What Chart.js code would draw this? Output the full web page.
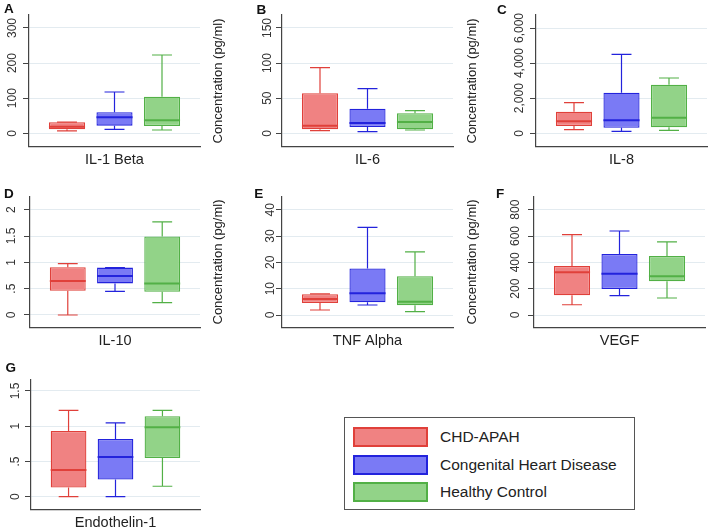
<!DOCTYPE html>
<html><head><meta charset="utf-8">
<script src="https://cdn.jsdelivr.net/npm/chart.js@4.4.1/dist/chart.umd.min.js"></script>
<style>
html,body{margin:0;padding:0;background:#fff;}
#page{position:relative;width:709px;height:532px;overflow:hidden;font-family:"Liberation Sans",Arial,sans-serif;background:#fff;}
#page canvas{position:absolute;}
.letter{position:absolute;font-weight:bold;font-size:13.5px;line-height:1;color:#111;}
.ytitle{position:absolute;font-size:13px;line-height:1;color:#222;white-space:nowrap;transform:translate(-50%,-50%) rotate(-90deg);}
#legend{position:absolute;left:344px;top:417px;width:291px;height:93px;border:1px solid #555;box-sizing:border-box;background:#fff;}
.item{position:absolute;left:8px;width:280px;height:20px;}
.sw{position:absolute;left:0;top:0;width:75px;height:20px;box-sizing:border-box;border:2px solid;}
.lt{position:absolute;left:87px;top:50%;transform:translateY(-50%);font-size:15.5px;white-space:nowrap;color:#222;line-height:1;}
</style></head><body><div id="page"></div>
<script>
// ---- data ----
const groups = ['CHD-APAH', 'Congenital Heart Disease', 'Healthy Control'];
const markers = ['IL-1 Beta', 'IL-6', 'IL-8', 'IL-10', 'TNF Alpha', 'VEGF', 'Endothelin-1'];
// [lower whisker, Q1, median, Q3, upper whisker] per group (CHD-APAH, CHD, Healthy Control)
const il1Beta = [[6.6, 11.4, 18.8, 31.3, 32], [11.4, 21.7, 45.6, 59.8, 117.7], [9.4, 20.8, 37, 104.3, 223]];
const il6 = [[3.7, 5.7, 10.8, 57, 93.4], [2.3, 9, 14.7, 35, 63.5], [4.7, 5.7, 16, 28.5, 32.2]];
const il8 = [[205, 416, 684, 1231, 1744], [114, 319, 741, 2313, 4501], [171, 342, 889, 2769, 3151]];
const il10 = [[0, 0.46, 0.646, 0.906, 0.975], [0.45, 0.60, 0.74, 0.90, 0.90], [0.234, 0.44, 0.60, 1.49, 1.77]];
const tnfAlpha = [[1.9, 4.56, 6.08, 7.87, 8], [3.8, 4.8, 8.25, 17.7, 33.3], [1.27, 3.7, 5.07, 14.7, 24]];
const vegf = [[78, 150, 325, 372, 610], [147, 198, 314, 464, 638], [129, 256, 294, 448, 555]];
const endothelin1 = [[0, 0.129, 0.377, 0.934, 1.224], [0, 0.243, 0.563, 0.82, 1.048], [0.148, 0.548, 0.986, 1.143, 1.224]];
// y tick values and labels
const il1BetaTicks = [0, 100, 200, 300];
const il1BetaTickLabels = ['0', '100', '200', '300'];
const il6Ticks = [0, 50, 100, 150];
const il6TickLabels = ['0', '50', '100', '150'];
const il8Ticks = [0, 2000, 4000, 6000];
const il8TickLabels = ['0', '2,000', '4,000', '6,000'];
const il10Ticks = [0, 0.5, 1, 1.5, 2];
const il10TickLabels = ['0', '.5', '1', '1.5', '2'];
const tnfAlphaTicks = [0, 10, 20, 30, 40];
const tnfAlphaTickLabels = ['0', '10', '20', '30', '40'];
const vegfTicks = [0, 200, 400, 600, 800];
const vegfTickLabels = ['0', '200', '400', '600', '800'];
const endothelin1Ticks = [0, 0.5, 1, 1.5];
const endothelin1TickLabels = ['0', '.5', '1', '1.5'];
const panelLetters = ['A', 'B', 'C', 'D', 'E', 'F', 'G'];
const yTitle = 'Concentration (pg/ml)';

// ---- styles ----
const fills = ['#f08282', '#7a7af5', '#92d388'];
const borders = ['#e0403a', '#2323dc', '#52b046'];
const FONT = '"Liberation Sans", Arial, sans-serif';
const TICK_FONT_SIZE = 12;
const TICK_LEN = 6;

// layout per panel: canvas cell [left, top, width, height], plot area [left, top, right, bottom], label centre offset from axis
const panels = [
  {stats: il1Beta, ticks: il1BetaTicks, labels: il1BetaTickLabels, min: -38.2, max: 337, cell: [0, 0, 236, 175], area: [29, 15, 200, 146.7], off: 16.3, letter: [4, 4], title: [217, 81]},
  {stats: il6, ticks: il6Ticks, labels: il6TickLabels, min: -19.1, max: 168.5, cell: [236, 0, 236, 175], area: [282, 15, 453, 146.7], off: 14.5, letter: [256.5, 4.5], title: [471, 81]},
  {stats: il8, ticks: il8Ticks, labels: il8TickLabels, min: -763, max: 6741, cell: [472, 0, 237, 175], area: [536, 15, 707, 146.7], off: 16.5, letter: [497, 4.5], title: null},
  {stats: il10, ticks: il10Ticks, labels: il10TickLabels, min: -0.234, max: 2.247, cell: [0, 175, 236, 180], area: [30, 196.7, 200, 327.3], off: 18.5, letter: [4, 188.3], title: [217, 262]},
  {stats: tnfAlpha, ticks: tnfAlphaTicks, labels: tnfAlphaTickLabels, min: -4.67, max: 44.94, cell: [236, 175, 236, 180], area: [282, 196.7, 453, 327.3], off: 11, letter: [254.3, 189], title: [471, 262]},
  {stats: vegf, ticks: vegfTicks, labels: vegfTickLabels, min: -93.4, max: 898.7, cell: [472, 175, 237, 180], area: [534, 196.7, 705, 327.3], off: 18.5, letter: [496, 188.3], title: null},
  {stats: endothelin1, ticks: endothelin1Ticks, labels: endothelin1TickLabels, min: -0.179, max: 1.666, cell: [0, 355, 236, 177], area: [31, 379.3, 200, 509.3], off: 15.3, letter: [5.5, 362.3], title: null}
];

const page = document.getElementById('page');
const mctx = document.createElement('canvas').getContext('2d');
mctx.font = TICK_FONT_SIZE + 'px ' + FONT;

const boxPlugin = {
  id: 'boxWhiskers',
  afterDatasetsDraw(chart, args, opts) {
    const ctx = chart.ctx;
    const xs = chart.scales.x, ys = chart.scales.y;
    const meta = chart.getDatasetMeta(0);
    opts.stats.forEach((s, i) => {
      const bar = meta.data[i];
      const cx = xs.getPixelForValue(i + 1);
      const half = bar.width / 2;
      const cap = xs.getPixelForValue(i + 1 + 0.21) - cx;
      const py = v => ys.getPixelForValue(v);
      ctx.save();
      ctx.strokeStyle = borders[i];
      ctx.lineWidth = 1.2;
      ctx.beginPath();
      ctx.moveTo(cx, py(s[3])); ctx.lineTo(cx, py(s[4]));
      ctx.moveTo(cx - cap, py(s[4])); ctx.lineTo(cx + cap, py(s[4]));
      ctx.moveTo(cx, py(s[1])); ctx.lineTo(cx, py(s[0]));
      ctx.moveTo(cx - cap, py(s[0])); ctx.lineTo(cx + cap, py(s[0]));
      ctx.stroke();
      ctx.lineWidth = 2;
      ctx.beginPath();
      ctx.moveTo(cx - half, py(s[2])); ctx.lineTo(cx + half, py(s[2]));
      ctx.stroke();
      ctx.restore();
    });
  }
};

panels.forEach((p, k) => {
  const [cl, ct, cw, ch] = p.cell;
  const [al, at, ar, ab] = p.area;
  const cv = document.createElement('canvas');
  cv.width = cw; cv.height = ch;
  cv.style.left = cl + 'px'; cv.style.top = ct + 'px';
  cv.style.width = cw + 'px'; cv.style.height = ch + 'px';
  page.appendChild(cv);

  const widest = Math.max(...p.labels.map(l => mctx.measureText(l).width));
  const tickPad = p.off - TICK_LEN - widest / 2;
  const xAxisH = 22;

  new Chart(cv.getContext('2d'), {
    type: 'bar',
    data: {
      datasets: [{
        data: p.stats.map((s, i) => ({x: i + 1, y: [s[1], s[3]]})),
        backgroundColor: fills,
        borderColor: borders,
        borderWidth: 1.3,
        borderSkipped: false,
        barPercentage: 0.76,
        categoryPercentage: 1
      }]
    },
    options: {
      responsive: false,
      animation: false,
      devicePixelRatio: 1,
      events: [],
      layout: {padding: {left: 0, top: at - ct, right: cl + cw - ar, bottom: ct + ch - ab - xAxisH}},
      plugins: {legend: {display: false}, tooltip: {enabled: false}, boxWhiskers: {stats: p.stats}},
      scales: {
        x: {
          type: 'linear', min: 0.2, max: 3.8, offset: false,
          afterBuildTicks: s => { s.ticks = [1, 2, 3].map(v => ({value: v})); },
          afterFit: s => { s.height = xAxisH; },
          ticks: {display: false},
          grid: {display: false, offset: false},
          border: {display: true, color: '#444', width: 1.2},
          title: {display: true, text: markers[k], color: '#222', padding: 0, font: {family: FONT, size: 14.5}}
        },
        y: {
          type: 'linear', min: p.min, max: p.max,
          afterBuildTicks: s => { s.ticks = p.ticks.map(v => ({value: v})); },
          afterFit: s => { s.width = al - cl; },
          ticks: {
            autoSkip: false, minRotation: 90, maxRotation: 90, crossAlign: 'center', padding: tickPad,
            color: '#333', font: {family: FONT, size: TICK_FONT_SIZE},
            callback: v => p.labels[p.ticks.indexOf(v)]
          },
          grid: {color: '#e3ebf0', lineWidth: 1, tickColor: '#444', tickLength: TICK_LEN, drawTicks: true},
          border: {display: true, color: '#444', width: 1.2}
        }
      }
    },
    plugins: [boxPlugin]
  });

  const lt = document.createElement('div');
  lt.className = 'letter';
  lt.textContent = panelLetters[k];
  lt.style.left = p.letter[0] + 'px';
  lt.style.top = (p.letter[1] - 1.8) + 'px';
  page.appendChild(lt);

  if (p.title) {
    const t = document.createElement('div');
    t.className = 'ytitle';
    t.textContent = yTitle;
    t.style.left = p.title[0] + 'px';
    t.style.top = p.title[1] + 'px';
    page.appendChild(t);
  }
});

// legend
const lg = document.createElement('div');
lg.id = 'legend';
const itemTops = [8.7, 36.5, 64];
groups.forEach((g, i) => {
  const it = document.createElement('div');
  it.className = 'item';
  it.style.top = itemTops[i] + 'px';
  const sw = document.createElement('div');
  sw.className = 'sw';
  sw.style.background = fills[i];
  sw.style.borderColor = borders[i];
  const tx = document.createElement('div');
  tx.className = 'lt';
  tx.textContent = g;
  it.appendChild(sw); it.appendChild(tx);
  lg.appendChild(it);
});
page.appendChild(lg);
</script></body></html>
